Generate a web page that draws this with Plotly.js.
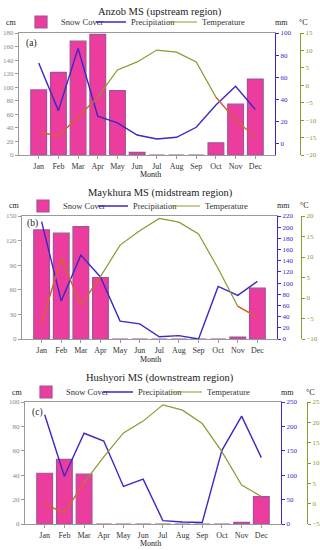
<!DOCTYPE html>
<html>
<head>
<meta charset="utf-8">
<script src="https://cdn.plot.ly/plotly-3.0.1.min.js"></script>
<style>html,body{margin:0;padding:0;background:#fff;}#chart{width:320px;height:550px;}</style>
</head>
<body>
<div id="chart"></div>
<script>
// ---- data ----
var months = ["Jan","Feb","Mar","Apr","May","Jun","Jul","Aug","Sep","Oct","Nov","Dec"];

var titleA = "Anzob MS (upstream region)";
var snowA   = [96, 122, 168, 178, 95, 4, 0, 0, 0, 18, 75, 112];
var precipA = [73, 30, 86, 25, 19, 8, 4.5, 6, 15, 35, 52, 31];
var tempA   = [-13.4, -14.6, -9.1, -3.4, 4.4, 6.7, 10.1, 9.5, 6.7, -3.4, -10, -14.8];

var titleB = "Maykhura MS (midstream region)";
var snowB   = [133, 129, 137, 75, 0, 0, 0, 0, 0, 0, 2.4, 62];
var precipB = [210, 68, 150, 111, 32, 27, 4, 6, 0, 94, 78, 103];
var tempB   = [-6.2, 9.7, -1.7, 5.2, 12.9, 16.4, 19.4, 18.5, 15.6, 7.2, -2, -4.7];

var titleC = "Hushyori MS (downstream region)";
var snowC   = [41.6, 53, 40.8, 0, 0, 0, 0, 0, 0, 0, 1.3, 22.5];
var precipC = [224, 98, 186, 170, 77, 92, 7, 4, 3, 151, 221, 136];
var tempC   = [-0.1, -2.3, 5.2, 11.5, 17.4, 20.3, 24.3, 23, 19.7, 12.8, 4.6, 1.75];

var seriesNames = ["Snow Cover", "Precipitation", "Temperature"];
var panelTags = ["(a)", "(b)", "(c)"];
var unitLabels = ["cm", "mm", "°C"];
var xTitle = "Month";

// ---- styles ----
var FONT = "Liberation Serif, Times New Roman, serif";
var BAR_FILL = "#ec3c9e", BAR_LINE = "#a0549a";
var PREC = "#3b28c6", TEMP = "#8c9a2e", TEMP_WARM = "#e8553a", AX = "#9a9a9a";
// months where the temperature line is drawn in red (style only)
var redIdx = [[0,1,2,3,9,10,11],[0,1,2,3,10,11],[0,1,2]];

function masked(vals, idx){ return vals.map(function(v,i){ return idx.indexOf(i) >= 0 ? v : null; }); }
function px(x){ return x/320; }
function py(y){ return 1 - y/550; }

var panels = [
  {t:titleA, s:snowA, p:precipA, tm:tempA, xd:[19,275], yd:[33,155], r1:[0,180], d1:20, r2:[-10,100], d2:20, r3:[-20,15], d3:5, oliveX:300, titleY:12, legY:22, legX:[21,91,162], monthY:174, tagX:24, tagY:44},
  {t:titleB, s:snowB, p:precipB, tm:tempB, xd:[22,277], yd:[216,339], r1:[0,150], d1:30, r2:[0,220], d2:20, r3:[-10,20], d3:5, oliveX:301, titleY:193, legY:206, legX:[23,93,165], monthY:359, tagX:25, tagY:223},
  {t:titleC, s:snowC, p:precipC, tm:tempC, xd:[25,281], yd:[402,524], r1:[0,100], d1:20, r2:[0,250], d2:50, r3:[-5,25], d3:5, oliveX:307, titleY:378, legY:392, legX:[26,98,167], monthY:543, tagX:30, tagY:412}
];

var data = [], annotations = [];
var layout = {
  width: 320, height: 550,
  margin: {l:0, r:0, t:0, b:0},
  paper_bgcolor: "#fff", plot_bgcolor: "#fff",
  font: {family: FONT, size: 8, color: "#333"},
  showlegend: true,
  bargap: 0.2
};

panels.forEach(function(P, k){
  var xs = k === 0 ? "x" : "x" + (k+1);
  var xa = k === 0 ? "xaxis" : "xaxis" + (k+1);
  var n1 = 3*k+1, n2 = 3*k+2, n3 = 3*k+3;
  var y1 = n1 === 1 ? "y" : "y" + n1, y2 = "y" + n2, y3 = "y" + n3;
  var legs = [0,1,2].map(function(j){ var n = 3*k + j + 1; return n === 1 ? "legend" : "legend" + n; });

  data.push({type:"bar", x:months, y:P.s, name:seriesNames[0], xaxis:xs, yaxis:y1, legend:legs[0],
    marker:{color:BAR_FILL, line:{color:BAR_LINE, width:1.2}}, width:0.8});
  data.push({type:"scatter", mode:"lines", x:months, y:P.p, name:seriesNames[1], xaxis:xs, yaxis:y2, legend:legs[1],
    line:{color:PREC, width:1.4}});
  data.push({type:"scatter", mode:"lines", x:months, y:P.tm, name:seriesNames[2], xaxis:xs, yaxis:y3, legend:legs[2],
    line:{color:TEMP, width:1.2}});
  data.push({type:"scatter", mode:"lines", x:months, y:masked(P.tm, redIdx[k]), name:seriesNames[2], xaxis:xs, yaxis:y3,
    showlegend:false, connectgaps:false, line:{color:TEMP_WARM, width:1.2}});

  layout[xa] = {domain:[px(P.xd[0]), px(P.xd[1])], anchor:y1, type:"category", categoryorder:"array", categoryarray:months,
    range:[-1,12], showline:true, mirror:true, linecolor:AX, linewidth:1, ticks:"outside", ticklen:3, tickcolor:AX,
    tickfont:{size:8, color:"#333"}, showgrid:false, zeroline:false, fixedrange:true};
  layout["yaxis" + (n1 === 1 ? "" : n1)] = {domain:[py(P.yd[1]), py(P.yd[0])], anchor:xs, range:P.r1, dtick:P.d1, tick0:0,
    showline:true, linecolor:AX, ticks:"outside", ticklen:3, tickcolor:AX, tickfont:{size:7, color:"#888"},
    showgrid:false, zeroline:false};
  layout["yaxis" + n2] = {overlaying:y1, anchor:xs, side:"right", range:P.r2, dtick:P.d2, tick0:0,
    showline:true, linecolor:PREC, linewidth:1, ticks:"outside", ticklen:3, tickcolor:PREC, tickfont:{size:7, color:PREC},
    showgrid:false, zeroline:false};
  layout["yaxis" + n3] = {overlaying:y1, anchor:"free", position:px(P.oliveX), side:"right", range:P.r3, dtick:P.d3, tick0:0,
    showline:true, linecolor:TEMP, linewidth:1, ticks:"outside", ticklen:3, tickcolor:TEMP, tickfont:{size:7, color:TEMP},
    showgrid:false, zeroline:false};

  legs.forEach(function(L, j){
    layout[L] = {orientation:"h", x:px(P.legX[j]), y:py(P.legY), xanchor:"left", yanchor:"middle",
      bgcolor:"rgba(0,0,0,0)", font:{size:8.5, color:"#333"}, itemwidth:30, tracegroupgap:0};
  });

  annotations.push({text:P.t, x:px(160), y:py(P.titleY), xref:"paper", yref:"paper", showarrow:false,
    font:{size:10.5, color:"#222"}, xanchor:"center", yanchor:"middle"});
  annotations.push({text:panelTags[k], x:px(P.tagX), y:py(P.tagY), xref:"paper", yref:"paper", showarrow:false,
    font:{size:9.5, color:"#222"}, xanchor:"left", yanchor:"middle"});
  annotations.push({text:unitLabels[0], x:px(P.xd[0]-8), y:py(P.legY), xref:"paper", yref:"paper", showarrow:false,
    font:{size:8, color:"#222"}, xanchor:"center", yanchor:"middle"});
  annotations.push({text:unitLabels[1], x:px(P.xd[1]+6), y:py(P.legY), xref:"paper", yref:"paper", showarrow:false,
    font:{size:8, color:"#222"}, xanchor:"center", yanchor:"middle"});
  annotations.push({text:unitLabels[2], x:px(P.oliveX+3), y:py(P.legY), xref:"paper", yref:"paper", showarrow:false,
    font:{size:8, color:"#222"}, xanchor:"center", yanchor:"middle"});
  annotations.push({text:xTitle, x:px(150), y:py(P.monthY), xref:"paper", yref:"paper", showarrow:false,
    font:{size:8, color:"#222"}, xanchor:"center", yanchor:"middle"});
});

layout.annotations = annotations;
Plotly.newPlot("chart", data, layout, {staticPlot:true, displayModeBar:false});
</script>
</body>
</html>
